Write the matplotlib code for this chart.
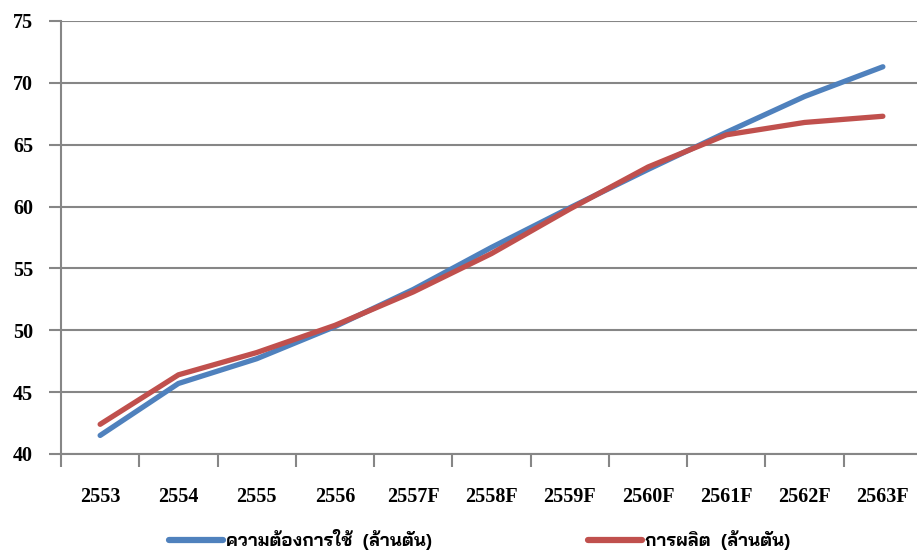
import matplotlib
matplotlib.use("Agg")
import matplotlib.pyplot as plt

years = ["2553", "2554", "2555", "2556", "2557F", "2558F",
         "2559F", "2560F", "2561F", "2562F", "2563F"]
demand = [41.5, 45.7, 47.7, 50.3, 53.3, 56.7, 59.9, 63.0, 66.0, 68.9, 71.3]
production = [42.4, 46.4, 48.2, 50.4, 53.1, 56.2, 59.8, 63.2, 65.8, 66.8, 67.3]

demand_label = "ความต้องการใช้  (ล้านตัน)"
production_label = "การผลิต  (ล้านตัน)"

grid_color = "#868686"

fig = plt.figure(figsize=(9.17, 5.51), dpi=100)
ax = fig.add_axes([61 / 917, 97 / 551, 861 / 917, 433 / 551])

x = range(len(years))
ax.plot(x, demand, color="#4F81BD", lw=3.8, solid_capstyle="round",
        solid_joinstyle="round", label=demand_label, zorder=3)
ax.plot(x, production, color="#C0504D", lw=3.8, solid_capstyle="round",
        solid_joinstyle="round", label=production_label, zorder=4)

ax.set_xlim(-0.5, len(years) - 0.5)
ax.set_ylim(40, 75)
ax.set_yticks(range(40, 76, 5))

# category labels sit between the boundary ticks
ax.set_xticks([i - 0.5 for i in range(len(years) + 1)])
ax.set_xticklabels([])
ax.set_xticks(list(x), minor=True)
ax.set_xticklabels(years, minor=True)
ax.tick_params(axis="x", which="major", direction="out", length=9,
               width=1.5, color=grid_color)
ax.tick_params(axis="x", which="minor", length=0, pad=24)
ax.tick_params(axis="y", direction="out", length=9, width=1.5,
               color=grid_color, pad=11)

for lbl in ax.get_xticklabels(minor=True) + ax.get_yticklabels():
    lbl.set_family("Liberation Serif")
    lbl.set_fontweight("bold")
    lbl.set_fontsize(14.5)

ax.grid(axis="y", color=grid_color, lw=1.5)
ax.set_axisbelow(True)
for side in ("top", "right"):
    ax.spines[side].set_visible(False)
for side in ("left", "bottom"):
    ax.spines[side].set_color(grid_color)
    ax.spines[side].set_linewidth(1.5)

leg = fig.legend(loc="center", bbox_to_anchor=(0.523, 0.02), ncol=2,
                 frameon=False, handlelength=3.0, handletextpad=0.2,
                 columnspacing=8.6,
                 prop={"family": ["Bai Jamjuree", "DejaVu Sans"],
                       "weight": "bold", "size": 13})
for line in leg.get_lines():
    line.set_linewidth(4.5)

fig.savefig("out.png", dpi=100)
